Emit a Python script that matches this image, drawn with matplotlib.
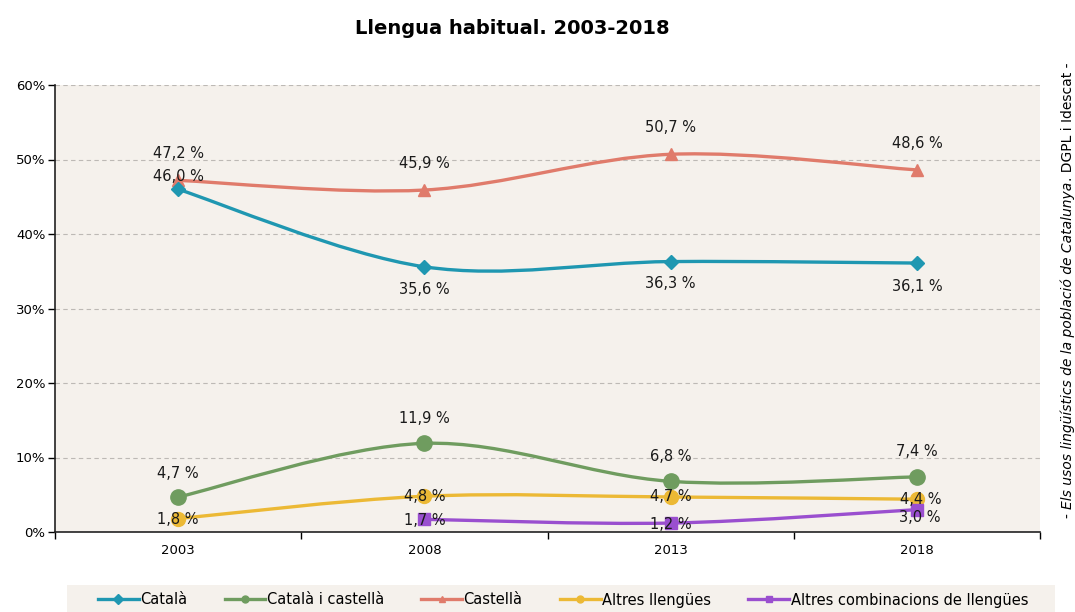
#!/usr/bin/env python3
# coding=utf-8
import matplotlib
matplotlib.use('Agg')
import matplotlib.pyplot as plt
import numpy as np
from matplotlib.path import Path
from matplotlib.patches import PathPatch, Rectangle
from matplotlib.lines import Line2D
from matplotlib.ticker import FixedLocator, FuncFormatter

# --- data (llengua habitual, % poblacio) ---
years = ['2003', '2008', '2013', '2018']
catala = [46.0, 35.6, 36.3, 36.1]
catala_castella = [4.7, 11.9, 6.8, 7.4]
castella = [47.2, 45.9, 50.7, 48.6]
altres = [1.8, 4.8, 4.7, 4.4]
altres_comb = [None, 1.7, 1.2, 3.0]   # no data for 2003
series_names = ['Català', 'Català i castellà', 'Castellà', 'Altres llengües',
                'Altres combinacions de llengües']
y_ticks = [0, 10, 20, 30, 40, 50, 60]

BG = '#f5f1ec'
colors = ['#1f97b1', '#6f9c5f', '#e07b6b', '#ecb935', '#9a4fcf']
markers = ['D', 'o', '^', 'o', 's']
msizes = [7, 11, 9, 10, 8]
# label offsets in points (dx, dy)
offs = [
    [(0, 9), (0, -16), (0, -16), (0, -17)],
    [(0, 17), (0, 18), (0, 18), (0, 18)],
    [(0, 19), (0, 19), (0, 19), (0, 19)],
    [(0, -1), (0, 0), (0, 0), (3, 0)],
    [None, (0, -1), (0, -1), (2, -6)],
]


def smooth(xs, ys):
    # excel-like smoothed line (catmull-rom bezier)
    p = np.column_stack([xs, ys]).astype(float)
    n = len(p)
    verts = [p[0]]
    codes = [Path.MOVETO]
    for i in range(n - 1):
        p0 = p[i - 1] if i > 0 else p[i]
        p1, p2 = p[i], p[i + 1]
        p3 = p[i + 2] if i + 2 < n else p[i + 1]
        verts += [p1 + (p2 - p0) / 6., p2 - (p3 - p1) / 6., p2]
        codes += [Path.CURVE4] * 3
    return Path(verts, codes)


def fmt(v):
    return f'{v:.1f}'.replace('.', ',') + ' %'


fig = plt.figure(figsize=(10.75, 6.12), dpi=100)
ax = fig.add_axes([55/1075, 1-532/612, 985/1075, 447/612])
ax.set_facecolor(BG)

allseries = [catala, catala_castella, castella, altres, altres_comb]
order = [2, 0, 1, 3, 4]
for k in order:
    vals = allseries[k]
    xs = [i for i, v in enumerate(vals) if v is not None]
    ys = [v for v in vals if v is not None]
    ax.add_patch(PathPatch(smooth(xs, ys), fill=False, edgecolor=colors[k],
                           lw=2.4, capstyle='round', zorder=3))
    ax.plot(xs, ys, ls='none', marker=markers[k], ms=msizes[k],
            color=colors[k], mec=colors[k], zorder=4)
for k in order:
    vals = allseries[k]
    for i, v in enumerate(vals):
        if v is None:
            continue
        ax.annotate(fmt(v), (i, v), xytext=offs[k][i], textcoords='offset points',
                    ha='center', va='center', fontsize=10.5, color='#1a1a1a', zorder=5)

ax.set_xlim(-0.5, 3.5)
ax.set_ylim(0, 60)
ax.yaxis.set_major_locator(FixedLocator(y_ticks))
ax.yaxis.set_major_formatter(FuncFormatter(lambda v, p: f'{v:.0f}%'))
ax.set_xticks(range(len(years)))
ax.set_xticklabels(years)
ax.set_xticks([-0.5, 0.5, 1.5, 2.5, 3.5], minor=True)
ax.tick_params(axis='x', which='major', length=0, pad=9, labelsize=9.5)
ax.tick_params(axis='x', which='minor', length=5, width=1, direction='out')
ax.tick_params(axis='y', length=5, width=1, direction='out', labelsize=9.5, pad=2)
ax.grid(axis='y', ls=(0, (4, 3)), color='#bdb9b5', lw=0.8)
for s in ['top', 'right']:
    ax.spines[s].set_visible(False)
for s in ['left', 'bottom']:
    ax.spines[s].set_linewidth(1.2)
    ax.spines[s].set_color('#222222')

fig.text(512/1075, 1-28/612, 'Llengua habitual. 2003-2018', ha='center', va='center',
         fontsize=14, fontweight='bold')

# source, rotated, with italic middle part
t1 = fig.text(1068/1075, 1-518/612, '- ', rotation=90, ha='center', va='bottom', fontsize=10)
t2 = fig.text(0, 0, 'Els usos lingüístics de la població de Catalunya', rotation=90,
              ha='center', va='bottom', fontsize=10, style='italic')
fig.canvas.draw()
bb = t1.get_window_extent()
t2.set_position((1068/1075, bb.y1 / fig.bbox.height))
fig.canvas.draw()
bb2 = t2.get_window_extent()
fig.text(1068/1075, bb2.y1 / fig.bbox.height, '. DGPL i Idescat -', rotation=90,
         ha='center', va='bottom', fontsize=10)

# legend
fig.patches.append(Rectangle((67/1075, 0), 988/1075, 27/612, transform=fig.transFigure,
                             facecolor=BG, edgecolor='none', zorder=0))
handles = [Line2D([], [], color=colors[k], lw=2.4, marker=markers[k], ms=5)
           for k in range(5)]
fig.legend(handles, series_names, loc='center', bbox_to_anchor=(563/1075, 1-600/612),
           ncol=5, frameon=False, fontsize=10.5, handlelength=2.8, handletextpad=0.1,
           columnspacing=2.55, borderaxespad=0)

fig.savefig('out.png', dpi=100)
